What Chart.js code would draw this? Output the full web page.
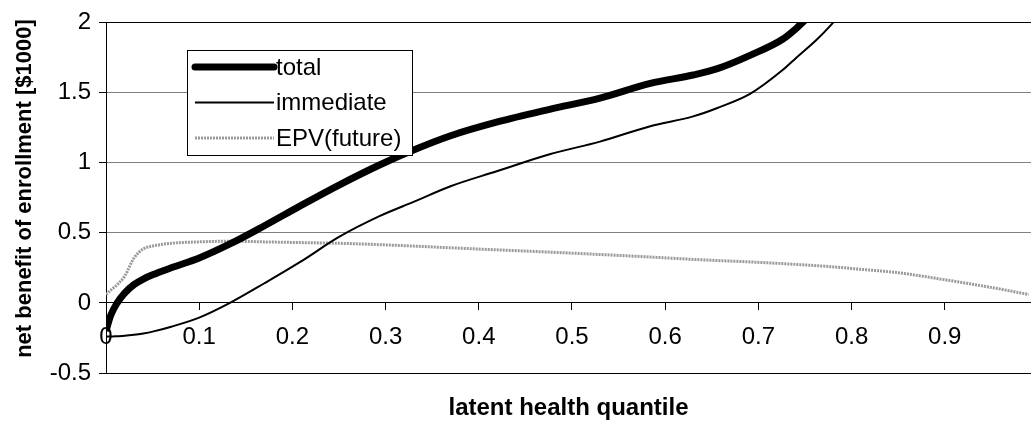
<!DOCTYPE html>
<html>
<head>
<meta charset="utf-8">
<script src="https://cdn.jsdelivr.net/npm/chart.js@4.4.1/dist/chart.umd.min.js"></script>
<style>
  html, body { margin: 0; padding: 0; background: #fff; }
  #wrap { width: 1031px; height: 430px; position: relative; }
</style>
</head>
<body>
<div id="wrap"><canvas id="chart"></canvas></div>
<script>
/* net benefit of enrollment by latent health quantile */

const quantiles = [0, 0.005, 0.012, 0.02, 0.03, 0.04, 0.05, 0.07, 0.1, 0.133, 0.17, 0.208, 0.25, 0.294,
  0.33, 0.369, 0.42, 0.476, 0.53, 0.584, 0.63, 0.656, 0.691, 0.726, 0.741, 0.763, 0.779, 0.8,
  0.85, 0.9, 0.95, 0.99];

const totalVals = [-0.2, -0.09, 0.0, 0.07, 0.13, 0.17, 0.2, 0.25, 0.32, 0.42, 0.55, 0.69, 0.84, 0.985,
  1.09, 1.19, 1.29, 1.38, 1.46, 1.565, 1.625, 1.67, 1.765, 1.88, 1.96, 2.1, 2.2, 2.35,
  null, null, null, null];

const immediateVals = [-0.24, -0.24, -0.238, -0.235, -0.228, -0.218, -0.205, -0.17, -0.105, 0.0, 0.14, 0.29, 0.47, 0.62,
  0.72, 0.83, 0.94, 1.06, 1.15, 1.26, 1.33, 1.39, 1.49, 1.66, 1.75, 1.88, 1.99, 2.15,
  null, null, null, null];

const epvVals = [0.06, 0.09, 0.13, 0.19, 0.32, 0.385, 0.405, 0.425, 0.435, 0.44, 0.435, 0.43, 0.425, 0.415,
  0.405, 0.393, 0.378, 0.362, 0.345, 0.327, 0.31, 0.302, 0.292, 0.28, 0.274, 0.265, 0.258, 0.245,
  0.215, 0.165, 0.11, 0.06];

const seriesLabels = ['total', 'immediate', 'EPV(future)'];
const xTicks = [0, 0.1, 0.2, 0.3, 0.4, 0.5, 0.6, 0.7, 0.8, 0.9];
const yTicks = [-0.5, 0, 0.5, 1, 1.5, 2];

const FONT = "'Liberation Sans', Arial, sans-serif";
const GRID_GRAY = '#808080';

Chart.defaults.font.family = FONT;
Chart.defaults.color = '#000';

const pts = vals => quantiles.map((q, i) => ({ x: q, y: vals[i] }));

// legend box sits inside the plot, drawn by hand
const boxLegend = {
  id: 'boxLegend',
  afterDatasetsDraw(chart) {
    const ctx = chart.ctx;
    const left = 187, top = 50, w = 225, h = 105;
    ctx.save();
    ctx.fillStyle = '#fff';
    ctx.fillRect(left, top, w, h);
    ctx.strokeStyle = '#000';
    ctx.lineWidth = 1;
    ctx.strokeRect(left + 0.5, top + 0.5, w, h);
    ctx.font = '24px ' + FONT;
    ctx.textBaseline = 'middle';
    chart.data.datasets.forEach((ds, i) => {
      const y = top + 17 + i * 35.5;
      ctx.strokeStyle = ds.borderColor;
      ctx.lineWidth = ds.borderWidth;
      ctx.lineCap = i === 0 ? 'round' : 'butt';
      ctx.setLineDash(ds.borderDash || []);
      ctx.beginPath();
      ctx.moveTo(left + 8, y);
      ctx.lineTo(left + 87, y);
      ctx.stroke();
      ctx.setLineDash([]);
      ctx.fillStyle = '#000';
      ctx.fillText(ds.label, left + 89, y + 1);
    });
    ctx.restore();
  }
};

new Chart(document.getElementById('chart'), {
  type: 'line',
  data: {
    datasets: [
      {
        label: seriesLabels[0],
        data: pts(totalVals),
        borderColor: '#000',
        borderWidth: 7,
        pointRadius: 0,
        cubicInterpolationMode: 'monotone',
      },
      {
        label: seriesLabels[1],
        data: pts(immediateVals),
        borderColor: '#000',
        borderWidth: 2,
        pointRadius: 0,
        cubicInterpolationMode: 'monotone',
      },
      {
        label: seriesLabels[2],
        data: pts(epvVals),
        borderColor: '#9a9a9a',
        borderWidth: 3,
        borderDash: [2, 1],
        pointRadius: 0,
        cubicInterpolationMode: 'monotone',
      }
    ]
  },
  options: {
    responsive: true,
    maintainAspectRatio: false,
    animation: false,
    events: [],
    layout: { padding: { top: 14, right: 0, bottom: 0, left: 0 } },
    plugins: {
      legend: { display: false },
      tooltip: { enabled: false }
    },
    scales: {
      x: {
        type: 'linear',
        position: { y: 0 },
        min: 0,
        max: 0.9925,
        afterBuildTicks: s => { s.ticks = xTicks.map(v => ({ value: v })); },
        afterFit: s => { s.height = 0; },
        grid: { drawOnChartArea: false, drawTicks: true, tickLength: 7, tickColor: '#000' },
        border: { color: '#000', width: 1 },
        ticks: { padding: 13, font: { size: 24 }, maxRotation: 0, callback: v => String(v) }
      },
      xb: {
        type: 'linear',
        position: 'bottom',
        min: 0,
        max: 0.9925,
        afterFit: s => { s.height = 57; },
        grid: { display: false, drawTicks: false },
        border: { display: false },
        ticks: { display: false },
        title: {
          display: true,
          text: 'latent health quantile',
          font: { size: 24, weight: 'bold' },
          padding: { top: 20, bottom: 7 }
        }
      },
      y: {
        min: -0.5,
        max: 2,
        afterBuildTicks: s => { s.ticks = yTicks.map(v => ({ value: v })); },
        afterFit: s => { s.width = 106; },
        grid: {
          color: c => (c.tick && (c.tick.value === 2 || c.tick.value === -0.5)) ? '#000' : GRID_GRAY,
          lineWidth: 1,
          tickLength: 7,
          tickColor: '#000'
        },
        border: { color: '#000', width: 1 },
        ticks: { padding: 8, font: { size: 24 }, callback: v => String(v) },
        title: {
          display: true,
          // leading spaces nudge the rotated title up, as in the original
          text: '\u00a0\u00a0\u00a0net benefit of enrollment [$1000]',
          font: { size: 22, weight: 'bold' },
          padding: { top: 12, bottom: 0 }
        }
      }
    }
  },
  plugins: [boxLegend]
});
</script>
</body>
</html>
